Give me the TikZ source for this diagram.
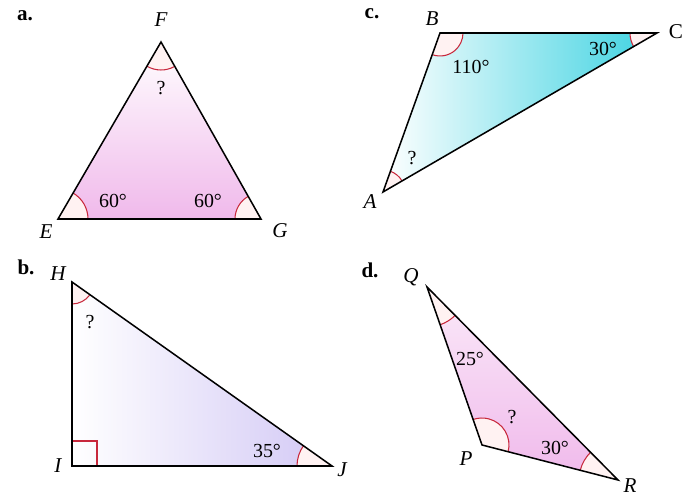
\documentclass[tikz,border=0pt]{standalone}
\usepackage{fontspec}
\setmainfont{Liberation Serif}
\usepackage{tikz}
\usetikzlibrary{angles, positioning}

\definecolor{pinkfill}{RGB}{240,185,235}
\definecolor{cyanfill}{RGB}{60,210,225}
\definecolor{lavfill}{RGB}{210,200,245}
\definecolor{arcred}{RGB}{200,40,60}

\tikzset{
	tri/.style={line width=1.3pt, line join=miter},
	angarc/.style={draw=arcred, line width=0.9pt, fill=red!5},
	vlbl/.style={font=\fontsize{18}{20}\selectfont\itshape, inner sep=0pt},
	albl/.style={font=\fontsize{17}{20}\selectfont, inner sep=0pt},
	plbl/.style={font=\fontsize{18}{20}\selectfont\bfseries, inner sep=0pt}
}

\begin{document}
\begin{tikzpicture}[x=0.3mm, y=0.3mm]
	\useasboundingbox (0,0) rectangle (694,497);
	
	% Eckpunkte
	\coordinate (E) at (58,278);
	\coordinate (F) at (161,455);
	\coordinate (G) at (261,278);
	\coordinate (A) at (383,305);
	\coordinate (B) at (440,464);
	\coordinate (C) at (657,464);
	\coordinate (H) at (72,215);
	\coordinate (I) at (72,31);
	\coordinate (J) at (332,31);
	\coordinate (Q) at (427,210);
	\coordinate (P) at (482,52);
	\coordinate (R) at (618,17);
	
	% Flaechen
	\shade[top color=white, bottom color=pinkfill] (E) -- (F) -- (G) -- cycle;
	\shade[left color=white, right color=cyanfill] (A) -- (B) -- (C) -- cycle;
	\shade[left color=white, right color=lavfill] (H) -- (I) -- (J) -- cycle;
	\shade[top color=pinkfill!30, bottom color=pinkfill] (Q) -- (P) -- (R) -- cycle;
	
	% Winkelboegen
	\pic[angarc, angle radius=8.4mm] {angle=E--F--G};
	\pic[angarc, angle radius=9mm] {angle=G--E--F};
	\pic[angarc, angle radius=7.8mm] {angle=F--G--E};
	\pic[angarc, angle radius=6.9mm] {angle=A--B--C};
	\pic[angarc, angle radius=8.1mm] {angle=B--C--A};
	\pic[angarc, angle radius=6.6mm] {angle=C--A--B};
	\pic[angarc, angle radius=6.6mm] {angle=I--H--J};
	\pic[angarc, angle radius=10.5mm] {angle=H--J--I};
	\pic[angarc, angle radius=12mm] {angle=P--Q--R};
	\pic[angarc, angle radius=8.1mm] {angle=R--P--Q};
	\pic[angarc, angle radius=11.7mm] {angle=Q--R--P};
	\draw[arcred, line width=0.9pt] (I) rectangle ++(25,25);
	
	% Dreiecke
	\draw[tri] (E) -- (F) -- (G) -- cycle;
	\draw[tri] (A) -- (B) -- (C) -- cycle;
	\draw[tri] (H) -- (I) -- (J) -- cycle;
	\draw[tri] (Q) -- (P) -- (R) -- cycle;
	
	% Teilaufgaben
	\node[plbl] (pa) at (25,481) {a.};
	\node[plbl] (pb) at (26,230) {b.};
	\node[plbl] (pc) at (372,483) {c.};
	\node[plbl] (pd) at (370,227) {d.};
	
	% Ecken beschriften
	\node[vlbl] (lF) at (161,477) {F};
	\node[vlbl] (lE) at (46,265) {E};
	\node[vlbl] (lG) at (280,266) {G};
	\node[vlbl] (lB) at (432,478) {B};
	\node[vlbl, font=\fontsize{18}{20}\selectfont] (lC) at (676,465) {C};
	\node[vlbl] (lA) at (370,295) {A};
	\node[vlbl] (lH) at (58,223) {H};
	\node[vlbl] (lI) at (58,31) {I};
	\node[vlbl] (lJ) at (342,27) {J};
	\node[vlbl] (lQ) at (411,220) {Q};
	\node[vlbl] (lP) at (466,38) {P};
	\node[vlbl] (lR) at (630,11) {R};
	
	% Winkel beschriften
	\node[albl] (wF) at (161,409) {?};
	\node[albl] (wE) at (113,296) {60°};
	\node[albl] (wG) at (208,296) {60°};
	\node[albl] (wB) at (471,430) {110°};
	\node[albl] (wC) at (603,448) {30°};
	\node[albl] (wA) at (412,339) {?};
	\node[albl] (wH) at (90,175) {?};
	\node[albl] (wJ) at (267,46) {35°};
	\node[albl] (wQ) at (470,138) {25°};
	\node[albl] (wP) at (512,80) {?};
	\node[albl] (wR) at (555,49) {30°};
\end{tikzpicture}
\end{document}
